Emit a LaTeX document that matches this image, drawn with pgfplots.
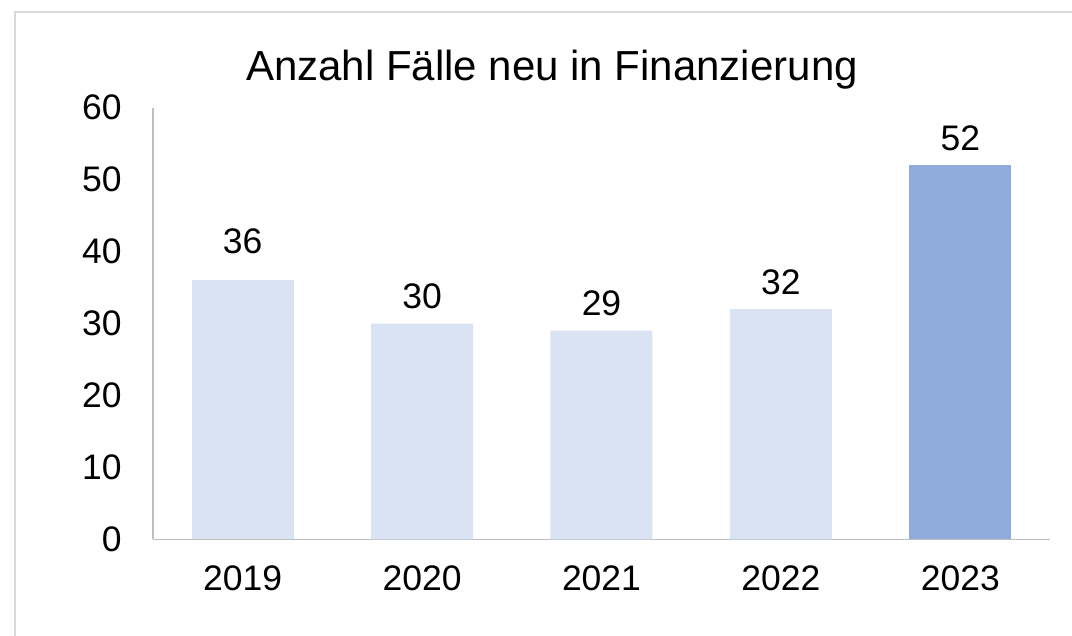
\documentclass[border=0pt]{standalone}
\usepackage{pgfplots}
\pgfplotsset{compat=1.18}
\usepackage{fontspec}
\setmainfont{Liberation Sans}
\definecolor{lightbar}{HTML}{DAE3F3}
\definecolor{darkbar}{HTML}{8FAADC}
\definecolor{axgray}{HTML}{BFBFBF}
\definecolor{framegray}{HTML}{D9D9D9}
\begin{document}
\begin{tikzpicture}
\path[use as bounding box] (0,0) rectangle (536pt,318pt);
\draw[framegray, line width=0.8pt] (7.5pt,0) -- (7.5pt,312pt) -- (536pt,312pt);
\node[font=\fontsize{21}{24}\selectfont] at (276pt,283pt) {Anzahl Fälle neu in Finanzierung};
\begin{axis}[
  at={(76.5pt,48.25pt)}, anchor=south west,
  scale only axis, width=448.5pt, height=216pt,
  xmin=-0.5, xmax=4.5, ymin=0, ymax=60,
  ytick={0,10,20,30,40,50,60},
  xtick={0,1,2,3,4},
  xticklabels={2019,2020,2021,2022,2023},
  axis x line*=bottom, axis y line*=left,
  axis line style={axgray, line width=0.6pt, -},
  major tick length=0pt,
  tick label style={font=\fontsize{17.75}{20}\selectfont},
  yticklabel style={anchor=east, inner sep=0pt, xshift=-15.5pt},
  xticklabel style={anchor=north, inner sep=0pt, yshift=-12.75pt},
  /pgf/number format/assume math mode=true,
  ybar, bar width=51pt, bar shift=0pt,
  nodes near coords,
  every node near coord/.append style={font=\fontsize{17.75}{20}\selectfont, black, anchor=south, inner sep=0pt, yshift=7pt},
  clip=false,
]
\addplot[fill=lightbar, draw=none, every node near coord/.append style={yshift=5.85pt}] coordinates {(0,36)};
\addplot[fill=lightbar, draw=none] coordinates {(1,30) (2,29) (3,32)};
\addplot[fill=darkbar, draw=none] coordinates {(4,52)};
\end{axis}
\end{tikzpicture}
\end{document}
